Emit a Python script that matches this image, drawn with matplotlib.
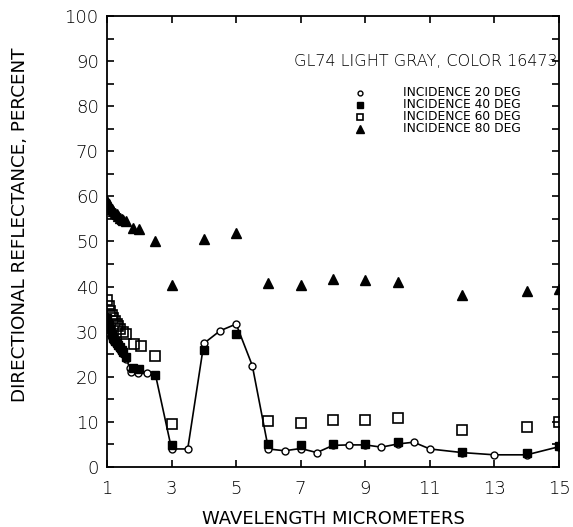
import matplotlib
matplotlib.use("Agg")
import matplotlib.pyplot as plt
from matplotlib.ticker import FixedLocator, MultipleLocator
from matplotlib.lines import Line2D

plt.rcParams['font.family'] = ['DejaVu Sans']
plt.rcParams['font.weight'] = 'light'

# 20 deg incidence (open circles, connected)
x20 = [1.0, 1.05, 1.1, 1.15, 1.2, 1.25, 1.3, 1.35, 1.4, 1.45, 1.5, 1.6, 1.7, 1.75, 1.95, 2.25, 2.5,
       3.0, 3.5, 4.0, 4.5, 5.0, 5.5, 6.0, 6.5, 7.0, 7.5, 8.0, 8.5, 9.0, 9.5, 10.0, 10.5, 11.0,
       12.0, 13.0, 14.0, 15.0]
y20 = [32.0, 30.5, 29.5, 28.5, 28.0, 27.5, 27.0, 26.5, 26.0, 25.5, 25.0, 24.0, 22.0, 21.1, 20.8, 20.8, 20.5,
       4.0, 4.0, 27.4, 30.2, 31.7, 22.5, 4.0, 3.6, 4.1, 3.2, 4.8, 4.9, 4.9, 4.4, 5.1, 5.5, 4.0,
       3.2, 2.7, 2.7, 4.5]

# 40 deg incidence (filled squares)
x40 = [1.0, 1.05, 1.1, 1.15, 1.2, 1.25, 1.3, 1.35, 1.4, 1.45, 1.5, 1.6, 1.8, 2.0, 2.5,
       3.0, 4.0, 5.0, 6.0, 7.0, 8.0, 9.0, 10.0, 12.0, 14.0, 15.0]
y40 = [33.0, 31.5, 30.5, 29.5, 28.5, 28.0, 27.5, 27.0, 26.5, 26.0, 25.5, 24.5, 22.0, 21.8, 20.5,
       4.8, 26.0, 29.5, 5.2, 4.8, 5.1, 5.1, 5.6, 3.3, 3.1, 4.6]

# 60 deg incidence (open squares)
x60 = [1.0, 1.05, 1.1, 1.15, 1.2, 1.25, 1.3, 1.35, 1.4, 1.5, 1.6, 1.85, 2.05, 2.5,
       3.0, 6.0, 7.0, 8.0, 9.0, 10.0, 12.0, 14.0, 15.0]
y60 = [37.0, 35.8, 34.5, 33.6, 33.0, 32.3, 31.8, 31.2, 30.6, 30.0, 29.5, 27.3, 26.9, 24.6,
       9.5, 10.3, 9.7, 10.4, 10.4, 10.8, 8.1, 8.9, 10.0]

# 80 deg incidence (filled triangles)
x80 = [1.0, 1.05, 1.1, 1.15, 1.2, 1.25, 1.3, 1.35, 1.4, 1.45, 1.5, 1.6, 1.8, 2.0, 2.5,
       3.0, 4.0, 5.0, 6.0, 7.0, 8.0, 9.0, 10.0, 12.0, 14.0, 15.0]
y80 = [59.0, 58.3, 57.7, 57.2, 56.8, 56.3, 56.0, 55.6, 55.3, 55.0, 54.8, 54.5, 52.9, 52.7, 50.0,
       40.4, 50.5, 51.8, 40.7, 40.4, 41.6, 41.5, 41.1, 38.1, 39.1, 39.5]

x_ticks = [1, 3, 5, 7, 9, 11, 13, 15]
labels = ["INCIDENCE 20 DEG", "INCIDENCE 40 DEG", "INCIDENCE 60 DEG", "INCIDENCE 80 DEG"]
title_text = "GL74 LIGHT GRAY, COLOR 16473"

fig = plt.figure(figsize=(5.73, 5.27), dpi=100)
ax = fig.add_axes([107/573, 60/527, (559-107)/573, (467-16)/527])

ax.plot(x20, y20, color='black', lw=1.2, marker='o', ms=5, mfc='white', mec='black', mew=1.0, zorder=3)
ax.plot(x40, y40, ls='none', marker='s', ms=5.5, mfc='black', mec='black', zorder=4)
ax.plot(x60, y60, ls='none', marker='s', ms=6.5, mfc='none', mec='black', mew=1.2, zorder=2)
ax.plot(x80, y80, ls='none', marker='^', ms=6.5, mfc='black', mec='black', zorder=2)

ax.set_xlim(1, 15)
ax.set_ylim(0, 100)
ax.xaxis.set_major_locator(FixedLocator(x_ticks))
ax.yaxis.set_major_locator(MultipleLocator(10))
ax.yaxis.set_minor_locator(MultipleLocator(5))
ax.tick_params(which='both', direction='in', top=True, right=True, length=5, width=1.2,
               labelsize=13)
ax.tick_params(axis='x', pad=9)
ax.tick_params(axis='y', pad=6)
for s in ax.spines.values():
    s.set_linewidth(1.3)

ax.set_xlabel("WAVELENGTH MICROMETERS", fontsize=13, labelpad=9)
ax.set_ylabel("DIRECTIONAL REFLECTANCE, PERCENT", fontsize=13.2)
ax.yaxis.set_label_coords(-0.172, 0.537)

fig.text(558/573, 1 - 62/527, title_text, ha='right', va='center', fontsize=11.5)

leg_y = [93, 105, 117, 129]
styles = [dict(marker='o', ms=3.5, mfc='white', mec='black'),
          dict(marker='s', ms=4.5, mfc='black', mec='black'),
          dict(marker='s', ms=4.5, mfc='none', mec='black', mew=1.2),
          dict(marker='^', ms=5.5, mfc='black', mec='black')]
for yy, lab, st in zip(leg_y, labels, styles):
    fy = 1 - yy/527
    fig.add_artist(Line2D([360/573], [fy], ls='none', transform=fig.transFigure, **st))
    fig.text(403/573, fy, lab, ha='left', va='center', fontsize=8.8, fontweight='normal')

fig.savefig("out.png", dpi=100)
